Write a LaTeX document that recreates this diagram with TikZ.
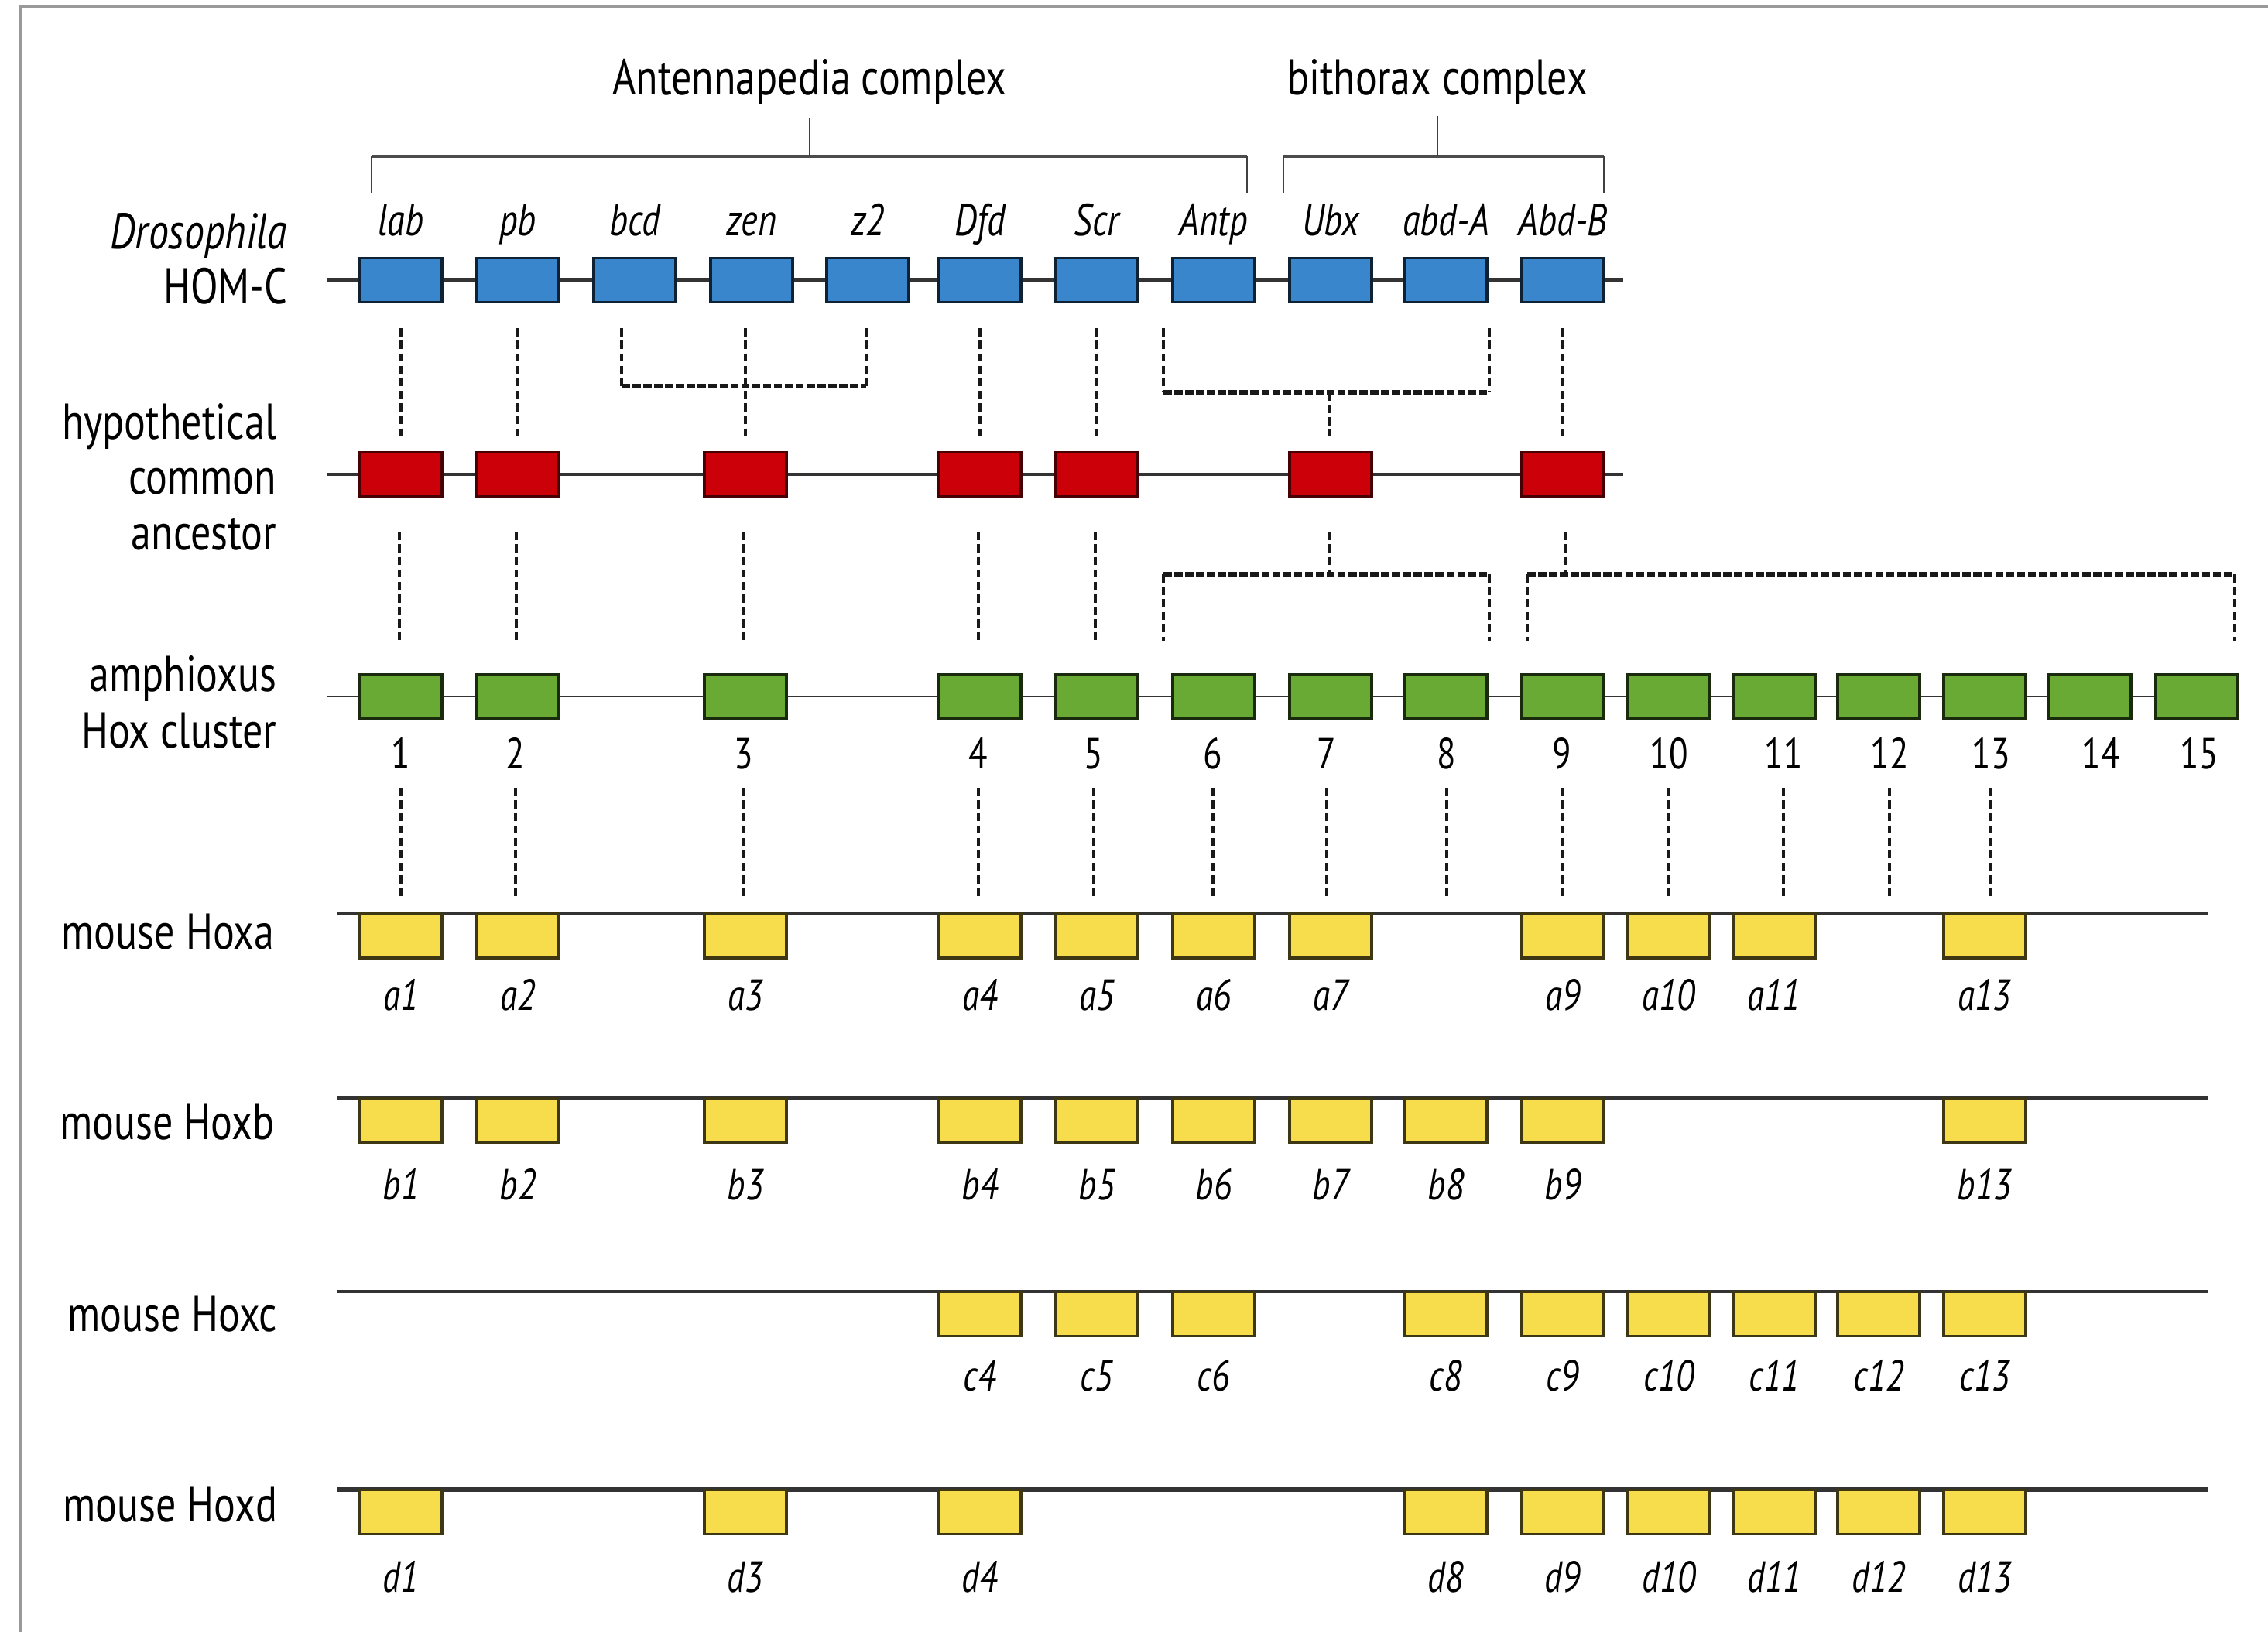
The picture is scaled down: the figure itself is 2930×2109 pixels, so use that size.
\documentclass[tikz,border=0pt]{standalone}
\usepackage{fontspec}
\setmainfont{PT Sans}[FakeStretch=0.8]
\usetikzlibrary{calc}
\definecolor{hblue}{RGB}{58,134,204}
\definecolor{hred}{RGB}{204,0,8}
\definecolor{hgreen}{RGB}{104,170,52}
\definecolor{hyellow}{RGB}{247,220,76}
\tikzset{
  gene/.style={line width=1pt, minimum width=10.6mm, minimum height=5.7mm, inner sep=0pt},
  dbox/.style={gene, fill=hblue, draw=hblue!25!black},
  abox/.style={gene, fill=hred, draw=hred!35!black},
  gbox/.style={gene, fill=hgreen, draw=hgreen!25!black},
  ybox/.style={gene, fill=hyellow, draw=hyellow!25!black},
  bigtext/.style={font=\fontsize{18.5}{22}\selectfont, inner sep=0pt, anchor=base},
  rowlab/.style={bigtext, anchor=base east},
  glab/.style={font=\fontsize{16.5}{20}\selectfont\itshape, inner sep=0pt, anchor=base},
  mlab/.style={font=\fontsize{16}{19}\selectfont\itshape, inner sep=0pt, anchor=base},
  nlab/.style={font=\fontsize{16}{19}\selectfont, inner sep=0pt, anchor=base},
  vcon/.style={draw=black!90, line width=1pt, dash pattern=on 3pt off 1.6pt},
  hcon/.style={draw=black!90, line width=1.6pt, dash pattern=on 3pt off 1pt},
  chrom/.style={draw=black!80, line width=#1},
  brkh/.style={draw=black!70, line width=1.4pt},
  brkv/.style={draw=black!75, line width=0.6pt},
  framel/.style={draw=black!40, line width=0.9pt}
}
\begin{document}
\begin{tikzpicture}[x=0.1mm, y=-0.1mm]
\useasboundingbox (0,0) rectangle (2930,2109);
% frame
\coordinate (fb) at (26,2109);
\coordinate (fc) at (26,8);
\coordinate (fe) at (2930,8);
\draw[framel] (fb) -- (fc) -- (fe);

% titles and brackets
\node[bigtext] (tAnt) at (1046,123) {Antennapedia complex};
\node[bigtext] (tBx) at (1857,123) {bithorax complex};
\coordinate (antL) at (480,202);
\coordinate (antR) at (1611,202);
\coordinate (bxL) at (1658,202);
\coordinate (bxR) at (2072,202);
\draw[brkh] (antL) -- (antR);
\draw[brkh] (bxL) -- (bxR);
\draw[brkv] (antL) -- ++(0,48);
\draw[brkv] (antR) -- ++(0,48);
\draw[brkv] (bxL) -- ++(0,48);
\draw[brkv] (bxR) -- ++(0,48);
\draw[brkv] ($(tAnt.base)+(0,29)$) -- (tAnt.base |- antL);
\draw[brkv] ($(tBx.base)+(0,27)$) -- (tBx.base |- bxL);

% ---------- Drosophila HOM-C ----------
\coordinate (r1s) at (422,362);
\coordinate (r1e) at (2097,362);
\draw[chrom=1.6pt] (r1s) -- (r1e);
\foreach \n/\x/\t in {1/518/lab, 2/669/pb, 3/820/bcd, 4/971/zen, 5/1121/z2, 6/1266/Dfd, 7/1417/Scr, 8/1568/Antp, 9/1719/Ubx, 10/1868/abd-A, 11/2019/Abd-B}{
  \node[dbox] (D\n) at (\x,362) {};
  \node[glab] (lD\n) at (\x,305) {\t};
}
\node[rowlab, font=\fontsize{18.5}{22}\selectfont\itshape] (labDro) at (372,322) {Drosophila};
\node[rowlab] (labHOM) at (372,393) {HOM-C};

% ---------- ancestor ----------
\coordinate (r2s) at (422,613);
\coordinate (r2e) at (2097,613);
\draw[chrom=1.3pt] (r2s) -- (r2e);
\foreach \n/\x in {1/518, 2/669, 3/963, 4/1266, 5/1417, 6/1719, 7/2019}{
  \node[abox] (A\n) at (\x,613) {};
}
\node[rowlab] (labHy1) at (358,568) {hypothetical};
\node[rowlab] (labHy2) at (358,639) {common};
\node[rowlab] (labHy3) at (358,710) {ancestor};

% ---------- amphioxus ----------
\coordinate (r3s) at (422,900);
\coordinate (r3e) at (2892,900);
\draw[chrom=0.8pt] (r3s) -- (r3e);
\foreach \n/\x in {1/518, 2/669, 3/963, 4/1266, 5/1417, 6/1568, 7/1719, 8/1868, 9/2019, 10/2156, 11/2292, 12/2427, 13/2564, 14/2700, 15/2838}{
  \node[gbox] (G\n) at (\x,900) {};
}
\foreach \n/\x in {1/518, 2/666, 3/961, 4/1264, 5/1413, 6/1567, 7/1714, 8/1869, 9/2018, 10/2156, 11/2304, 12/2441, 13/2572, 14/2714, 15/2841}{
  \node[nlab] (N\n) at (\x,993) {\n};
}
\node[rowlab] (labAm1) at (358,894) {amphioxus};
\node[rowlab] (labAm2) at (358,966) {Hox cluster};

% ---------- mouse clusters ----------
\coordinate (ha) at (435,1181);
\coordinate (hae) at (2853,1181);
\coordinate (hb) at (435,1419);
\coordinate (hbe) at (2853,1419);
\coordinate (hc) at (435,1669);
\coordinate (hce) at (2853,1669);
\coordinate (hd) at (435,1925);
\coordinate (hde) at (2853,1925);
\draw[chrom=0.9pt] (ha) -- (hae);
\draw[chrom=1.7pt] (hb) -- (hbe);
\draw[chrom=1.2pt] (hc) -- (hce);
\draw[chrom=1.7pt] (hd) -- (hde);

\foreach \n/\x in {1/518, 2/669, 3/963, 4/1266, 5/1417, 6/1568, 7/1719, 9/2019, 10/2156, 11/2292, 13/2564}{
  \node[ybox] (a\n) at (\x,1209.5) {};
  \node[mlab] (la\n) at (\x,1305) {a\n};
}
\foreach \n/\x in {1/518, 2/669, 3/963, 4/1266, 5/1417, 6/1568, 7/1719, 8/1868, 9/2019, 13/2564}{
  \node[ybox] (b\n) at (\x,1448) {};
  \node[mlab] (lb\n) at (\x,1550) {b\n};
}
\foreach \n/\x in {4/1266, 5/1417, 6/1568, 8/1868, 9/2019, 10/2156, 11/2292, 12/2427, 13/2564}{
  \node[ybox] (c\n) at (\x,1698) {};
  \node[mlab] (lc\n) at (\x,1797) {c\n};
}
\foreach \n/\x in {1/518, 3/963, 4/1266, 8/1868, 9/2019, 10/2156, 11/2292, 12/2427, 13/2564}{
  \node[ybox] (d\n) at (\x,1954) {};
  \node[mlab] (ld\n) at (\x,2057) {d\n};
}
\node[rowlab] (labHa) at (355,1226) {mouse Hoxa};
\node[rowlab] (labHb) at (355,1472) {mouse Hoxb};
\node[rowlab] (labHc) at (359,1720) {mouse Hoxc};
\node[rowlab] (labHd) at (359,1966) {mouse Hoxd};

% ---------- connectors: Drosophila -> ancestor ----------
\foreach \d/\a in {1/1, 2/2, 6/4, 7/5, 11/7}{
  \draw[vcon] ($(D\d.south -| A\a.north)+(0,32)$) -- ($(A\a.north)+(0,-20)$);
}
\draw[vcon] ($(D4.south -| A3.north)+(0,32)$) -- ($(A3.north)+(0,-20)$);
% bcd / zen / z2 bracket
\coordinate (bzL) at (803,499);
\coordinate (bzR) at (1119,499);
\draw[vcon] ($(D3.south -| bzL)+(0,32)$) -- (bzL);
\draw[vcon] ($(D5.south -| bzR)+(0,32)$) -- (bzR);
\draw[hcon] (bzL) -- (bzR);
% Antp / Ubx / abd-A bracket
\coordinate (uxL) at (1503,507);
\coordinate (uxR) at (1924,507);
\coordinate (uxM) at (1717,507);
\draw[vcon] ($(D8.south -| uxL)+(0,32)$) -- (uxL);
\draw[vcon] ($(D10.south -| uxR)+(0,32)$) -- (uxR);
\draw[hcon] (uxL) -- (uxR);
\draw[vcon] (uxM) -- ($(A6.north)+(-2,-20)$);

% ---------- connectors: ancestor -> amphioxus ----------
\foreach \a/\g in {1/1, 2/2, 3/3, 4/4, 5/5}{
  \draw[vcon] ($(A\a.south)+(-2,44)$) -- ($(G\g.north)+(-2,-42)$);
}
\coordinate (b7L) at (1503,742);
\coordinate (b7R) at (1924,742);
\coordinate (b7M) at (1717,742);
\draw[vcon] ($(A6.south)+(-2,44)$) -- (b7M);
\draw[hcon] (b7L) -- (b7R);
\draw[vcon] (b7L) -- ($(G6.north -| b7L)+(0,-42)$);
\draw[vcon] (b7R) -- ($(G8.north -| b7R)+(0,-42)$);
\coordinate (b9L) at (1973,742);
\coordinate (b9R) at (2887,742);
\coordinate (b9M) at (2022,742);
\draw[vcon] ($(A7.south)+(3,44)$) -- (b9M);
\draw[hcon] (b9L) -- (b9R);
\draw[vcon] (b9L) -- ($(G9.north -| b9L)+(0,-42)$);
\draw[vcon] (b9R) -- ($(G15.north -| b9R)+(0,-42)$);

% ---------- connectors: amphioxus -> mouse ----------
\foreach \n in {1,2,...,13}{
  \draw[vcon] ($(N\n.base)+(0,25)$) -- ($(N\n.base |- ha)+(0,-21)$);
}
\end{tikzpicture}
\end{document}
